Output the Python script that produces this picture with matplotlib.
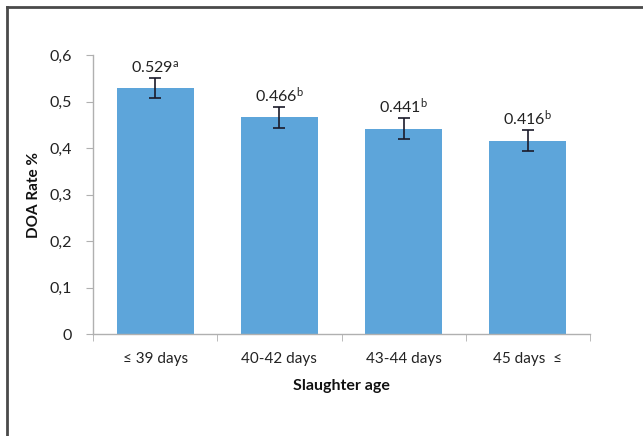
import matplotlib
matplotlib.use("Agg")
import matplotlib.pyplot as plt
from matplotlib.lines import Line2D

categories = ["\u2264 39 days", "40-42 days", "43-44 days", "45 days  \u2264"]
values = [0.529, 0.466, 0.441, 0.416]
errors = [0.022, 0.022, 0.0225, 0.0225]
letters = ["a", "b", "b", "b"]
yticks = [0, 0.1, 0.2, 0.3, 0.4, 0.5, 0.6]
ytick_labels = ["0", "0,1", "0,2", "0,3", "0,4", "0,5", "0,6"]

plt.rcParams['font.family'] = ['Lato', 'DejaVu Sans']
plt.rcParams['mathtext.fontset'] = 'custom'
plt.rcParams['mathtext.rm'] = 'Lato'
plt.rcParams['mathtext.it'] = 'Lato:italic'
plt.rcParams['mathtext.bf'] = 'Lato:bold'

fig = plt.figure(figsize=(6.43, 4.36), dpi=100)
ax = fig.add_axes([93/643, 1-334/436, (590-93)/643, (334-55)/436])

x = list(range(len(categories)))
ax.bar(x, values, width=0.62, color="#5DA5DA", zorder=2)
ax.errorbar(x, values, yerr=errors, fmt="none", ecolor="#1a1a2a",
            elinewidth=1.2, capsize=4, capthick=1.2, zorder=3)

for xi, v, e, l in zip(x, values, errors, letters):
    ax.annotate(f"{v:.3f}$^{{\\mathrm{{{l}}}}}$", (xi, v + e), xytext=(0, 1.5),
                textcoords="offset points", ha="center", va="bottom",
                fontsize=11.5, color="#222222")

ax.set_xlim(-0.5, len(categories) - 0.5)
ax.set_ylim(0, 0.6)
ax.set_yticks(yticks)
ax.set_yticklabels(ytick_labels, fontsize=11.5, color="#222222")
ax.set_xticks(x)
ax.set_xticklabels(categories, fontsize=11, color="#222222")
ax.set_xticks([i - 0.5 for i in range(len(categories) + 1)], minor=True)
ax.tick_params(axis="x", which="major", length=0, pad=13)
ax.tick_params(axis="x", which="minor", length=5, color="#b0b0b0", direction="out")
ax.tick_params(axis="y", length=5, color="#b0b0b0", direction="out", pad=10)

for s in ["top", "right"]:
    ax.spines[s].set_visible(False)
for s in ["left", "bottom"]:
    ax.spines[s].set_color("#b0b0b0")
    ax.spines[s].set_linewidth(1)

ax.set_ylabel("DOA Rate %", fontsize=11, fontweight="bold", color="#111111", labelpad=6)
ax.set_xlabel("Slaughter age", fontsize=11.5, fontweight="bold", color="#111111", labelpad=9)

# outer frame (left and top edges)
fig.add_artist(Line2D([7/643, 7/643], [0, 1-7/436], transform=fig.transFigure,
                      color="#4a4a4a", linewidth=2))
fig.add_artist(Line2D([7/643, 1], [1-7/436, 1-7/436], transform=fig.transFigure,
                      color="#4a4a4a", linewidth=2))

fig.savefig("out.png", dpi=100)
